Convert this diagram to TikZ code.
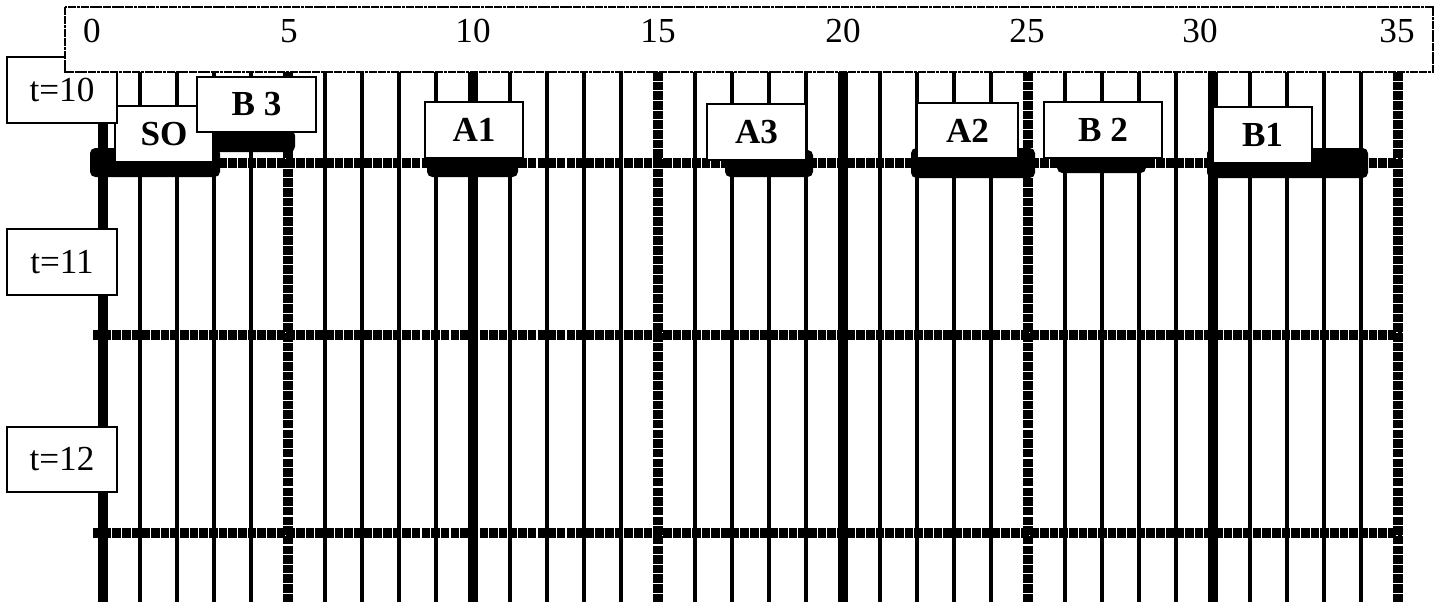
\documentclass[tikz,border=0pt]{standalone}
\usepackage{fontspec}
\setmainfont{Liberation Serif}

\tikzset{
  gridthin/.style={line width=2pt},
  gridthick/.style={line width=5.5pt},
  griddot/.style={line width=5.8pt, dash pattern=on 4.9pt off 0.6pt},
  timebox/.style={draw, fill=white, line width=0.9pt, minimum width=2.2cm, minimum height=1.32cm, font=\fontsize{20}{22}\selectfont},
  taskbox/.style={draw, fill=white, line width=0.9pt, minimum height=1.12cm, font=\fontsize{20}{22}\selectfont\bfseries},
  taskbar/.style={fill=black, rounded corners=3pt},
  ticklabel/.style={font=\fontsize{20}{22}\selectfont}
}

\begin{document}
\begin{tikzpicture}[x=0.02cm, y=-0.02cm]
\useasboundingbox (0,0) rectangle (1440,602);
% grid columns
\foreach \u in {0,...,35} {
  \pgfmathtruncatemacro\r{mod(\u,5)}
  \pgfmathtruncatemacro\q{mod(\u,10)}
  \ifnum\r>0
    \draw[gridthin] ({103+37*\u},72) -- ({103+37*\u},602);
  \else\ifnum\q=0
    \draw[gridthick] ({103+37*\u},72) -- ({103+37*\u},602);
  \else
    \draw[griddot] ({103+37*\u},72) -- ({103+37*\u},602);
  \fi\fi
}
% time rows
\foreach \y in {163,335,533}
  \draw[griddot] (93,\y) -- (1402,\y);
% bars under the tasks
\fill[taskbar] (90,148) rectangle (220,177);
\fill[taskbar] (207,130) rectangle (295,152);
\fill[taskbar] (427,150) rectangle (518,177);
\fill[taskbar] (725,150) rectangle (813,177);
\fill[taskbar] (911,148) rectangle (1035,178);
\fill[taskbar] (1057,150) rectangle (1146,173);
\fill[taskbar] (1207,148) rectangle (1368,178);
% tasks
\node[taskbox, minimum width=1.96cm] (so) at (164,134) {SO};
\node[taskbox, minimum width=2.38cm, minimum height=1.1cm] (bthree) at (256.5,104.5) {B 3};
\node[taskbox, minimum width=1.96cm] (aone) at (474,130) {A1};
\node[taskbox, minimum width=1.98cm] (athree) at (756.5,132) {A3};
\node[taskbox, minimum width=2.02cm, minimum height=1.1cm] (atwo) at (967.5,130.5) {A2};
\node[taskbox, minimum width=2.36cm] (btwo) at (1103,130) {B 2};
\node[taskbox, minimum width=1.98cm] (bone) at (1262.5,135) {B1};
% time labels
\node[timebox] (tten) at (62,90) {t=10};
\node[timebox] (televen) at (62,262) {t=11};
\node[timebox, minimum height=1.3cm] (ttwelve) at (62,459.5) {t=12};
% scale
\draw[fill=white, line width=0.8pt, dash pattern=on 2.2pt off 0.3pt] (65,7) rectangle (1433,72);
\node[ticklabel] (n0) at (92,31) {0};
\node[ticklabel] (n5) at (289,31) {5};
\node[ticklabel] (n10) at (473,31) {10};
\node[ticklabel] (n15) at (658,31) {15};
\node[ticklabel] (n20) at (843,31) {20};
\node[ticklabel] (n25) at (1027,31) {25};
\node[ticklabel] (n30) at (1200,31) {30};
\node[ticklabel] (n35) at (1397,31) {35};
\end{tikzpicture}
\end{document}
